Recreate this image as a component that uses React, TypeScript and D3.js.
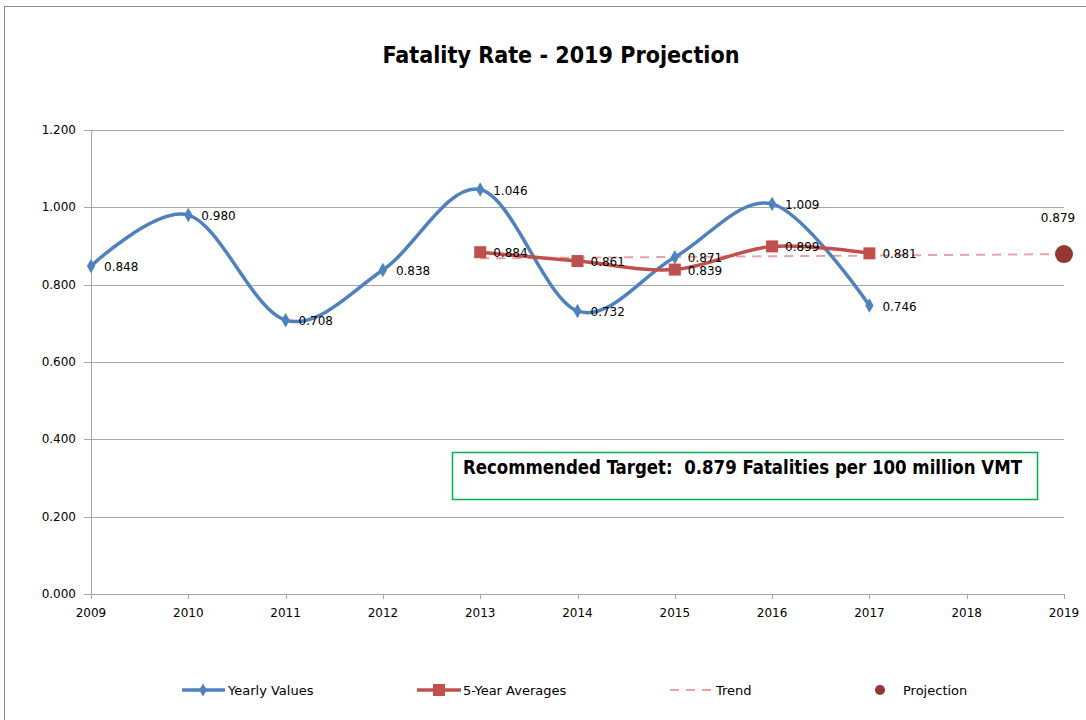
import React, { useEffect, useRef } from "react";
import * as d3 from "d3";

const years = [2009, 2010, 2011, 2012, 2013, 2014, 2015, 2016, 2017, 2018, 2019];
const yearlyYears = [2009, 2010, 2011, 2012, 2013, 2014, 2015, 2016, 2017];
const yearlyValues = [0.848, 0.98, 0.708, 0.838, 1.046, 0.732, 0.871, 1.009, 0.746];
const avgYears = [2013, 2014, 2015, 2016, 2017];
const avgValues = [0.884, 0.861, 0.839, 0.899, 0.881];
const trendYears = [2013, 2019];
const trendValues = [0.868, 0.879];
const projectionYear = 2019;
const projectionValue = 0.879;
const yTicks = [0, 0.2, 0.4, 0.6, 0.8, 1.0, 1.2];

const BLUE = "#4F81BD";
const RED = "#C0504D";
const PINK = "#E6A3A1";
const DARKRED = "#943634";
const GRID = "#A6A6A6";

const App = () => {
  const svgRef = useRef<SVGSVGElement>(null);

  useEffect(() => {
    const svg = d3.select(svgRef.current);
    svg.selectAll("*").remove();

    const x = d3.scaleLinear().domain([2009, 2019]).range([91, 1064]);
    const y = d3.scaleLinear().domain([0, 1.2]).range([594, 130]);
    const lblFont = "Verdana, 'DejaVu Sans', sans-serif";

    // outer chart border
    svg
      .append("rect")
      .attr("x", 4.5)
      .attr("y", 6.5)
      .attr("width", 1200)
      .attr("height", 800)
      .attr("fill", "white")
      .attr("stroke", "#8C8C8C");

    // title
    svg
      .append("text")
      .attr("x", 561)
      .attr("y", 63)
      .attr("text-anchor", "middle")
      .attr("font-family", "'Liberation Sans Narrow', 'DejaVu Sans Condensed', sans-serif")
      .attr("font-weight", "bold")
      .attr("font-size", "23px")
      .attr("textLength", 357)
      .attr("lengthAdjust", "spacingAndGlyphs")
      .text("Fatality Rate - 2019 Projection");

    // gridlines + y labels
    yTicks.forEach((t) => {
      svg
        .append("line")
        .attr("x1", 84)
        .attr("x2", 1064)
        .attr("y1", Math.round(y(t)) + 0.5)
        .attr("y2", Math.round(y(t)) + 0.5)
        .attr("stroke", GRID);
      svg
        .append("text")
        .attr("x", 76)
        .attr("y", y(t) + 4)
        .attr("text-anchor", "end")
        .attr("font-family", lblFont)
        .attr("font-size", "12px")
        .text(d3.format(".3f")(t));
    });

    // y axis line
    svg
      .append("line")
      .attr("x1", 91.5)
      .attr("x2", 91.5)
      .attr("y1", y(1.2))
      .attr("y2", y(0))
      .attr("stroke", GRID);

    // x ticks + labels
    years.forEach((yr) => {
      svg
        .append("line")
        .attr("x1", Math.round(x(yr)) + 0.5)
        .attr("x2", Math.round(x(yr)) + 0.5)
        .attr("y1", y(0))
        .attr("y2", y(0) + 5)
        .attr("stroke", GRID);
      svg
        .append("text")
        .attr("x", x(yr))
        .attr("y", 617)
        .attr("text-anchor", "middle")
        .attr("font-family", lblFont)
        .attr("font-size", "12px")
        .text(yr);
    });

    // trend line
    const trend = trendYears.map((yr, i) => [yr, trendValues[i]] as [number, number]);
    svg
      .append("path")
      .attr(
        "d",
        d3.line<[number, number]>().x((d) => x(d[0])).y((d) => y(d[1]))(trend)
      )
      .attr("fill", "none")
      .attr("stroke", PINK)
      .attr("stroke-width", 2)
      .attr("stroke-dasharray", "9 7");

    const smooth = d3
      .line<[number, number]>()
      .x((d) => x(d[0]))
      .y((d) => y(d[1]))
      .curve(d3.curveCatmullRom.alpha(0));

    // yearly values
    const yearly = yearlyYears.map((yr, i) => [yr, yearlyValues[i]] as [number, number]);
    svg
      .append("path")
      .attr("d", smooth(yearly))
      .attr("fill", "none")
      .attr("stroke", BLUE)
      .attr("stroke-width", 3.5);
    svg
      .selectAll(".dia")
      .data(yearly)
      .enter()
      .append("path")
      .attr("d", d3.symbol(d3.symbolDiamond, 60)())
      .attr("transform", (d) => `translate(${x(d[0])},${y(d[1])})`)
      .attr("fill", BLUE);

    // 5-year averages
    const avg = avgYears.map((yr, i) => [yr, avgValues[i]] as [number, number]);
    svg
      .append("path")
      .attr("d", smooth(avg))
      .attr("fill", "none")
      .attr("stroke", RED)
      .attr("stroke-width", 3.5);
    svg
      .selectAll(".sq")
      .data(avg)
      .enter()
      .append("rect")
      .attr("x", (d) => x(d[0]) - 6)
      .attr("y", (d) => y(d[1]) - 6)
      .attr("width", 12)
      .attr("height", 12)
      .attr("fill", RED);

    // projection
    svg
      .append("circle")
      .attr("cx", x(projectionYear))
      .attr("cy", y(projectionValue))
      .attr("r", 9)
      .attr("fill", DARKRED);
    svg
      .append("text")
      .attr("x", x(projectionYear) - 6)
      .attr("y", 222)
      .attr("text-anchor", "middle")
      .attr("font-family", lblFont)
      .attr("font-size", "12px")
      .text(d3.format(".3f")(projectionValue));

    // data labels
    const labels = [...yearly, ...avg];
    svg
      .selectAll(".lbl")
      .data(labels)
      .enter()
      .append("text")
      .attr("x", (d) => x(d[0]) + 13)
      .attr("y", (d) => y(d[1]) + 5)
      .attr("font-family", lblFont)
      .attr("font-size", "12px")
      .text((d) => d3.format(".3f")(d[1]));

    // target box
    svg
      .append("rect")
      .attr("x", 452.5)
      .attr("y", 452.5)
      .attr("width", 585)
      .attr("height", 47)
      .attr("fill", "white")
      .attr("stroke", "#00B050")
      .attr("stroke-width", 1.5);
    svg
      .append("text")
      .attr("x", 463)
      .attr("y", 474)
      .attr("font-family", "'Liberation Sans Narrow', 'DejaVu Sans Condensed', sans-serif")
      .attr("font-weight", "bold")
      .attr("font-size", "19px")
      .attr("textLength", 559)
      .attr("lengthAdjust", "spacingAndGlyphs")
      .attr("xml:space", "preserve")
      .text("Recommended Target:  0.879 Fatalities per 100 million VMT");

    // legend
    const ly = 690;
    const leg = svg.append("g").attr("font-family", lblFont).attr("font-size", "13px");
    leg.append("line").attr("x1", 182).attr("x2", 225).attr("y1", ly).attr("y2", ly).attr("stroke", BLUE).attr("stroke-width", 3.5);
    leg.append("path").attr("d", d3.symbol(d3.symbolDiamond, 50)()).attr("transform", `translate(203,${ly})`).attr("fill", BLUE);
    leg.append("text").attr("x", 228).attr("y", ly + 5).text("Yearly Values");

    leg.append("line").attr("x1", 417).attr("x2", 461).attr("y1", ly).attr("y2", ly).attr("stroke", RED).attr("stroke-width", 3.5);
    leg.append("rect").attr("x", 433).attr("y", ly - 6).attr("width", 12).attr("height", 12).attr("fill", RED);
    leg.append("text").attr("x", 463).attr("y", ly + 5).text("5-Year Averages");

    leg.append("line").attr("x1", 670).attr("x2", 715).attr("y1", ly).attr("y2", ly).attr("stroke", PINK).attr("stroke-width", 2).attr("stroke-dasharray", "9 7");
    leg.append("text").attr("x", 716).attr("y", ly + 5).text("Trend");

    leg.append("circle").attr("cx", 880).attr("cy", ly).attr("r", 5).attr("fill", DARKRED);
    leg.append("text").attr("x", 903).attr("y", ly + 5).text("Projection");
  }, []);

  return (
    <svg
      ref={svgRef}
      width={1086}
      height={720}
      style={{ position: "absolute", left: 0, top: 0, background: "white" }}
    ></svg>
  );
};

export default App;
